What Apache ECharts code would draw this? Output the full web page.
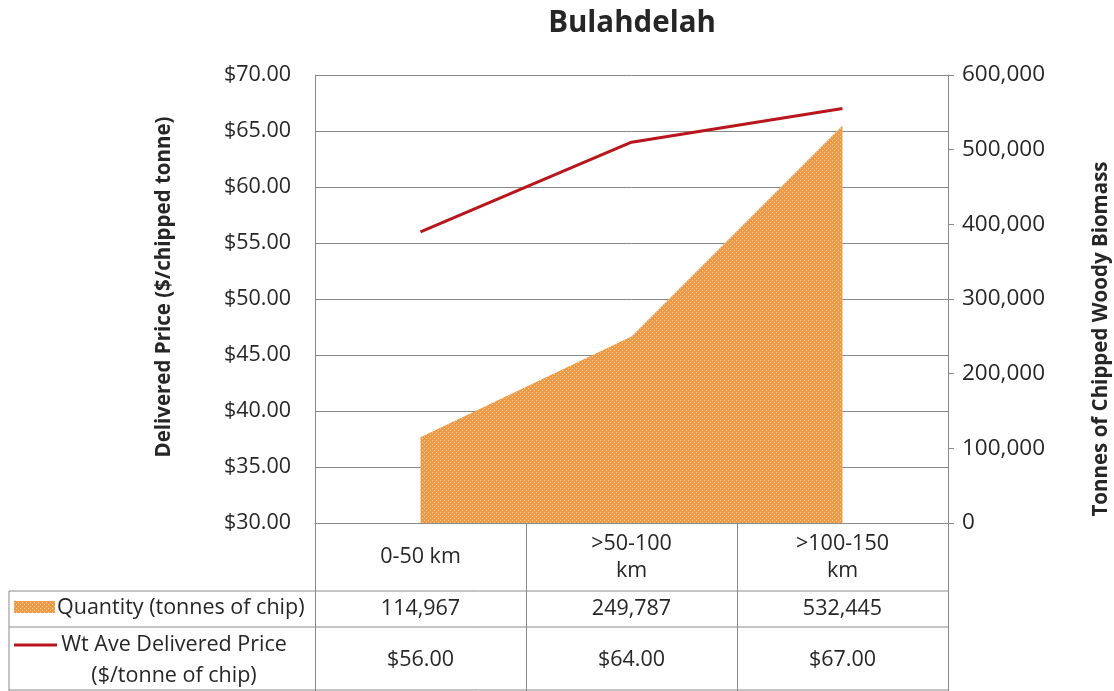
<!DOCTYPE html>
<html>
<head>
<meta charset="utf-8">
<script src="https://cdn.jsdelivr.net/npm/echarts@6/dist/echarts.min.js"></script>
<style>
  html, body { margin: 0; padding: 0; background: #fff; }
  #main { width: 1114px; height: 691px; }
</style>
</head>
<body>
<div id="main"></div>
<script>
const categories = ['0-50 km', '>50-100\nkm', '>100-150\nkm'];
const quantity = [114967, 249787, 532445];
const price = [56, 64, 67];
const priceTicks = { min: 30, max: 70, interval: 5 };
const qtyTicks = { min: 0, max: 600000, interval: 100000 };
const rowNames = ['Quantity (tonnes of chip)', 'Wt Ave Delivered Price\n($/tonne of chip)'];

const FONT = 'Open Sans';
const TXT = '#262626';
const GRID = '#898989';
const FS = 21.5;

// dotted orange fill like the excel pattern
function makePattern() {
    const c = document.createElement('canvas');
    c.width = 4; c.height = 4;
    const ctx = c.getContext('2d');
    ctx.fillStyle = '#EE9A47';
    ctx.fillRect(0, 0, 4, 4);
    ctx.fillStyle = '#F9D2A4';
    ctx.fillRect(0, 0, 1, 1);
    ctx.fillRect(2, 2, 1, 1);
    return { image: c, repeat: 'repeat' };
}
const pattern = makePattern();

const chart = echarts.init(document.getElementById('main'));
chart.setOption({
    animation: false,
    title: {
        text: 'Bulahdelah',
        left: 627, top: 4, textAlign: 'center',
        textStyle: { fontFamily: FONT, fontSize: 29.5, fontWeight: 'bold', color: TXT }
    },
    grid: { left: 315, right: 166, top: 75, bottom: 168 },
    xAxis: {
        type: 'category',
        data: categories,
        boundaryGap: true,
        axisLine: { lineStyle: { color: GRID, width: 1 } },
        axisTick: { show: true, interval: 0, length: 168, lineStyle: { color: GRID } },
        axisLabel: {
            interval: 0, margin: 34, verticalAlign: 'middle', lineHeight: 27,
            fontFamily: FONT, fontSize: FS, color: TXT
        }
    },
    yAxis: [
        {
            type: 'value',
            min: priceTicks.min, max: priceTicks.max, interval: priceTicks.interval,
            axisLine: { show: true, lineStyle: { color: GRID } },
            axisTick: { show: false },
            splitLine: { show: true, lineStyle: { color: GRID, width: 1 } },
            axisLabel: {
                margin: 24, fontFamily: FONT, fontSize: FS, color: TXT,
                formatter: v => '$' + v.toFixed(2)
            }
        },
        {
            type: 'value',
            position: 'right',
            min: qtyTicks.min, max: qtyTicks.max, interval: qtyTicks.interval,
            axisLine: { show: true, lineStyle: { color: GRID } },
            axisTick: { show: true, length: 6, lineStyle: { color: GRID } },
            splitLine: { show: false },
            axisLabel: {
                margin: 14, fontFamily: FONT, fontSize: 22.5, color: TXT,
                formatter: v => v.toLocaleString('en-US')
            }
        }
    ],
    series: [
        {
            name: 'Quantity (tonnes of chip)',
            type: 'line',
            yAxisIndex: 1,
            data: quantity,
            showSymbol: false,
            lineStyle: { width: 0 },
            areaStyle: { color: pattern, opacity: 1 },
            z: 1
        },
        {
            name: 'Wt Ave Delivered Price ($/tonne of chip)',
            type: 'line',
            yAxisIndex: 0,
            data: price,
            showSymbol: false,
            lineStyle: { color: '#B8161C', width: 3 },
            z: 3
        }
    ]
});

// data table under the plot
const g = [];
const line = (x1, y1, x2, y2) => g.push({
    type: 'line', shape: { x1, y1, x2, y2 },
    style: { stroke: GRID, lineWidth: 1 }, silent: true
});
line(9, 591, 948, 591);
line(9, 627, 948, 627);
line(9, 690, 948, 690);
line(9, 591, 9, 691);

const txt = (x, y, text, opts) => g.push({
    type: 'text', x, y,
    style: Object.assign({
        text, fontFamily: FONT, fontSize: FS, fill: TXT,
        align: 'center', verticalAlign: 'middle', lineHeight: 31
    }, opts || {})
});
categories.forEach((c, i) => {
    const cx = chart.convertToPixel({ xAxisIndex: 0 }, i);
    txt(cx, 609, quantity[i].toLocaleString('en-US'));
    txt(cx, 660, '$' + price[i].toFixed(2));
});
g.push({ type: 'rect', shape: { x: 14, y: 601, width: 41, height: 12 }, style: { fill: pattern } });
txt(57, 608, rowNames[0], { align: 'left' });
g.push({ type: 'line', shape: { x1: 14, y1: 645, x2: 57, y2: 645 }, style: { stroke: '#B8161C', lineWidth: 3 } });
txt(174, 660, rowNames[1]);

// axis titles
txt(164, 287, 'Delivered Price ($/chipped tonne)', { fontSize: 20.5, fontWeight: 'bold' });
g[g.length - 1].rotation = Math.PI / 2;
txt(1101, 339, 'Tonnes of Chipped Woody Biomass', { fontSize: 20.5, fontWeight: 'bold' });
g[g.length - 1].rotation = Math.PI / 2;

chart.setOption({ graphic: g });
</script>
</body>
</html>
